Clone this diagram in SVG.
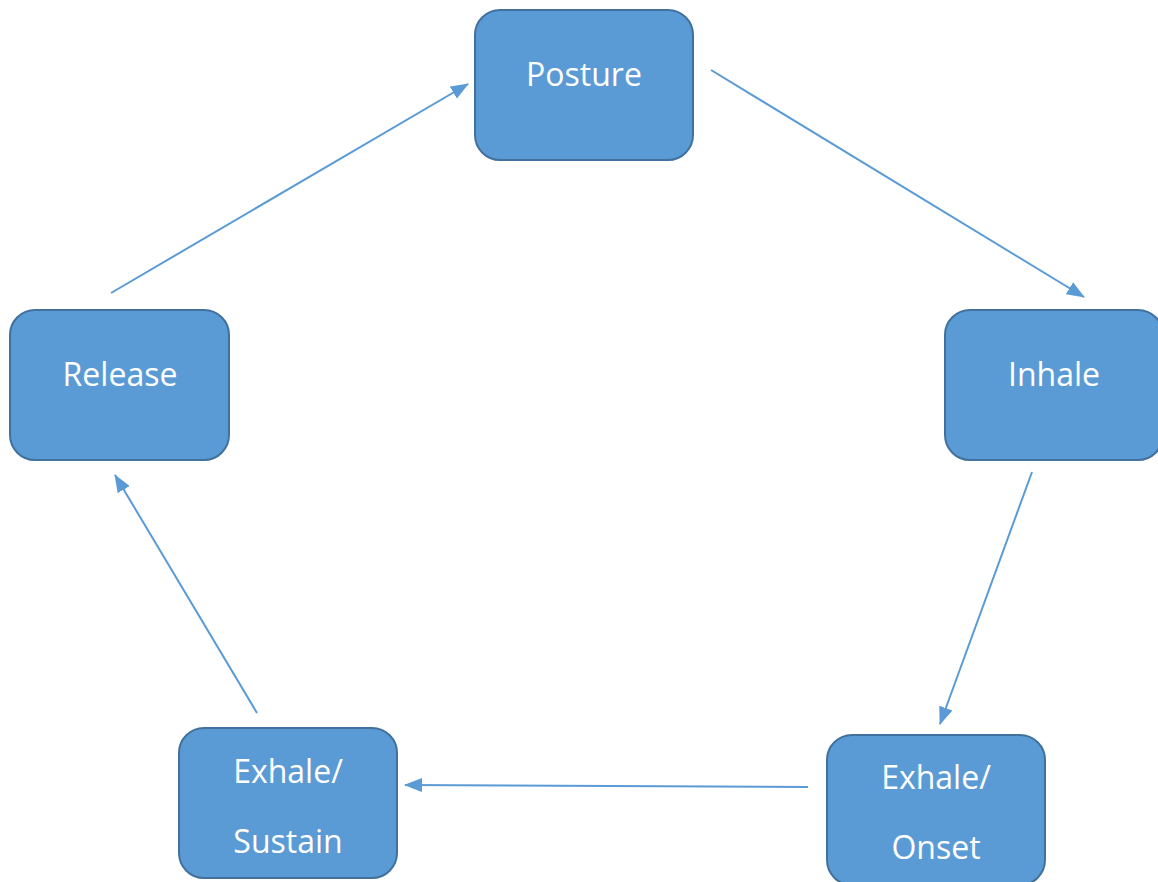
<svg xmlns="http://www.w3.org/2000/svg" width="1158" height="882" viewBox="0 0 1158 882">
<style>
.node{fill:#5B9BD5;stroke:#41719C;stroke-width:2}
.lbl{fill:#fff;font-family:"Open Sans","Liberation Sans",sans-serif;font-size:32px;text-anchor:middle}
.conn{stroke:#5B9BD5;stroke-width:2;fill:none;marker-end:url(#ah)}
</style>
<defs>
<marker id="ah" markerWidth="9" markerHeight="7" refX="8.5" refY="3.5" orient="auto" markerUnits="strokeWidth">
<path d="M0,0 L9,3.5 L0,7 Z" fill="#5B9BD5"/>
</marker>
</defs>
<rect width="1158" height="882" fill="#fff"/>
<g id="connectors">
<line class="conn" x1="711" y1="70" x2="1084" y2="297"/>
<line class="conn" x1="1032" y1="472" x2="940" y2="724"/>
<line class="conn" x1="808" y1="787" x2="405" y2="785"/>
<line class="conn" x1="257" y1="713" x2="115" y2="475"/>
<line class="conn" x1="111" y1="293" x2="468" y2="84"/>
</g>
<g id="posture">
<rect class="node" x="475" y="10" width="218" height="150" rx="25"/>
<text class="lbl" x="584" y="86">Posture</text>
</g>
<g id="inhale">
<rect class="node" x="945" y="310" width="218" height="150" rx="25"/>
<text class="lbl" x="1054" y="386">Inhale</text>
</g>
<g id="release">
<rect class="node" x="10" y="310" width="219" height="150" rx="25"/>
<text class="lbl" x="120" y="386">Release</text>
</g>
<g id="exhale-onset">
<rect class="node" x="827" y="735" width="218" height="150" rx="25"/>
<text class="lbl" x="936" y="789">Exhale/</text>
<text class="lbl" x="936" y="859">Onset</text>
</g>
<g id="exhale-sustain">
<rect class="node" x="179" y="728" width="218" height="150" rx="25"/>
<text class="lbl" x="288" y="783">Exhale/</text>
<text class="lbl" x="288" y="853">Sustain</text>
</g>
</svg>
